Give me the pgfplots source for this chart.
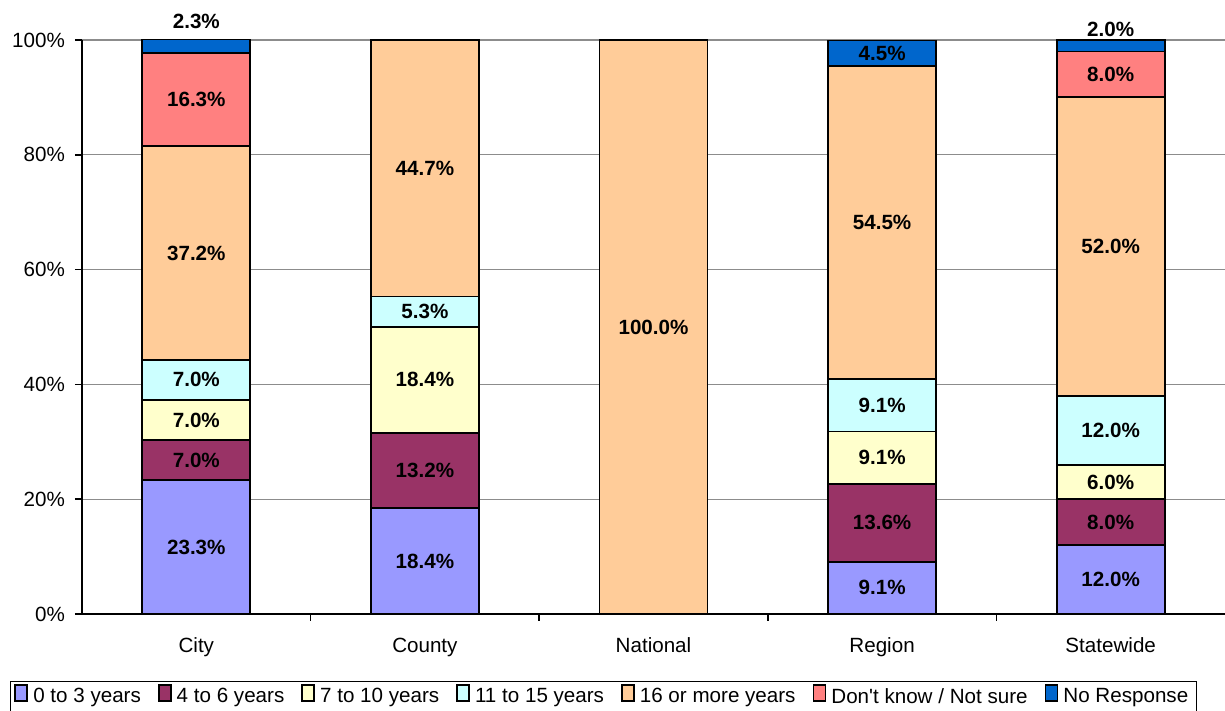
\documentclass[border=0pt]{standalone}
\usepackage{fontspec}
\setmainfont{Liberation Sans}
\usepackage{pgfplots}
\pgfplotsset{compat=1.18}
\usepackage{pgfplotstable}

\definecolor{cA}{HTML}{9999FF}
\definecolor{cB}{HTML}{993366}
\definecolor{cC}{HTML}{FFFFCC}
\definecolor{cD}{HTML}{CCFFFF}
\definecolor{cE}{HTML}{FFCC99}
\definecolor{cF}{HTML}{FF8080}
\definecolor{cG}{HTML}{0066CC}

\pgfplotstableread{
x a b c d e f g
0 23.3 7.0 7.0 7.0 37.2 16.3 2.3
1 18.4 13.2 18.4 5.3 44.7 0 0
2 0 0 0 0 100 0 0
3 9.1 13.6 9.1 9.1 54.5 0 4.5
4 12.0 8.0 6.0 12.0 52.0 8.0 2.0
}\data

\begin{document}
\begin{tikzpicture}
\useasboundingbox (-41pt,-48.5pt) rectangle (571.5pt,307pt);
\begin{axis}[
  at={(0,0)}, anchor=south west,
  scale only axis, width=571.5pt, height=287pt,
  font=\fontsize{10.3}{12}\selectfont,
  ybar stacked, bar width=54pt,
  xmin=-0.5, xmax=4.5, ymin=0, ymax=100,
  clip=false,
  axis x line*=bottom, axis y line*=left,
  axis line style={black, line width=0.8pt, -},
  xtick={0,...,4},
  xticklabels={City,County,National,Region,Statewide},
  major x tick style={draw=none},
  minor xtick={0.5,1.5,2.5,3.5},
  minor tick length=3.5pt,
  x tick style={black, line width=0.8pt},
  y tick style={black, line width=0.8pt},
  major tick length=3.5pt,
  tick align=outside,
  ytick={0,20,...,100},
  yticklabel={\pgfmathprintnumber{\tick}\%},
  /pgf/number format/assume math mode=true,
  yticklabel style={xshift=-1.5pt},
  xticklabel style={yshift=-5pt},
  ymajorgrids,
  grid style={gray!90, line width=0.6pt},
  every axis plot/.append style={draw=black, line width=0.9pt},
  ybar legend/.style={legend image code/.code={\fill[##1] (0pt,-3pt) rectangle (6.5pt,3pt); \draw[black,line width=0.8pt] (0pt,-3pt) rectangle (6.5pt,3pt);}},
  legend columns=7,
  legend style={at={(-0.063,-0.116)}, anchor=north west, draw=black, line width=0.5pt,
    font=\fontsize{10.3}{12}\selectfont, inner ysep=1.5pt, inner xsep=2pt,
    /tikz/every even column/.append style={column sep=6.5pt},
    /tikz/every odd column/.append style={column sep=0.5pt}},
  visualization depends on=rawy\as\rawy,
  visualization depends on=rawx\as\rawx,
  nodes near coords={\pgfmathfloatifflags{\pgfplotspointmeta}{0}{}{\pgfmathprintnumber[fixed,fixed zerofill,precision=1]{\pgfplotspointmeta}\%}},
  every node near coord/.append style={font=\fontsize{10.3}{12}\selectfont\bfseries, anchor=center,
    yshift={(\rawy<3 ? (\rawx<0.5 ? 12.5 : 8) : 0)*1pt}},
]
\addplot[fill=cA] table[x=x,y=a]{\data};
\addlegendentry{0 to 3 years}
\addplot[fill=cB] table[x=x,y=b]{\data};
\addlegendentry{4 to 6 years}
\addplot[fill=cC] table[x=x,y=c]{\data};
\addlegendentry{7 to 10 years}
\addplot[fill=cD] table[x=x,y=d]{\data};
\addlegendentry{11 to 15 years}
\addplot[fill=cE] table[x=x,y=e]{\data};
\addlegendentry{16 or more years}
\addplot[fill=cF] table[x=x,y=f]{\data};
\addlegendentry{Don\textquotesingle t know / Not sure}
\addplot[fill=cG] table[x=x,y=g]{\data};
\addlegendentry{No Response}
\end{axis}
\end{tikzpicture}
\end{document}
